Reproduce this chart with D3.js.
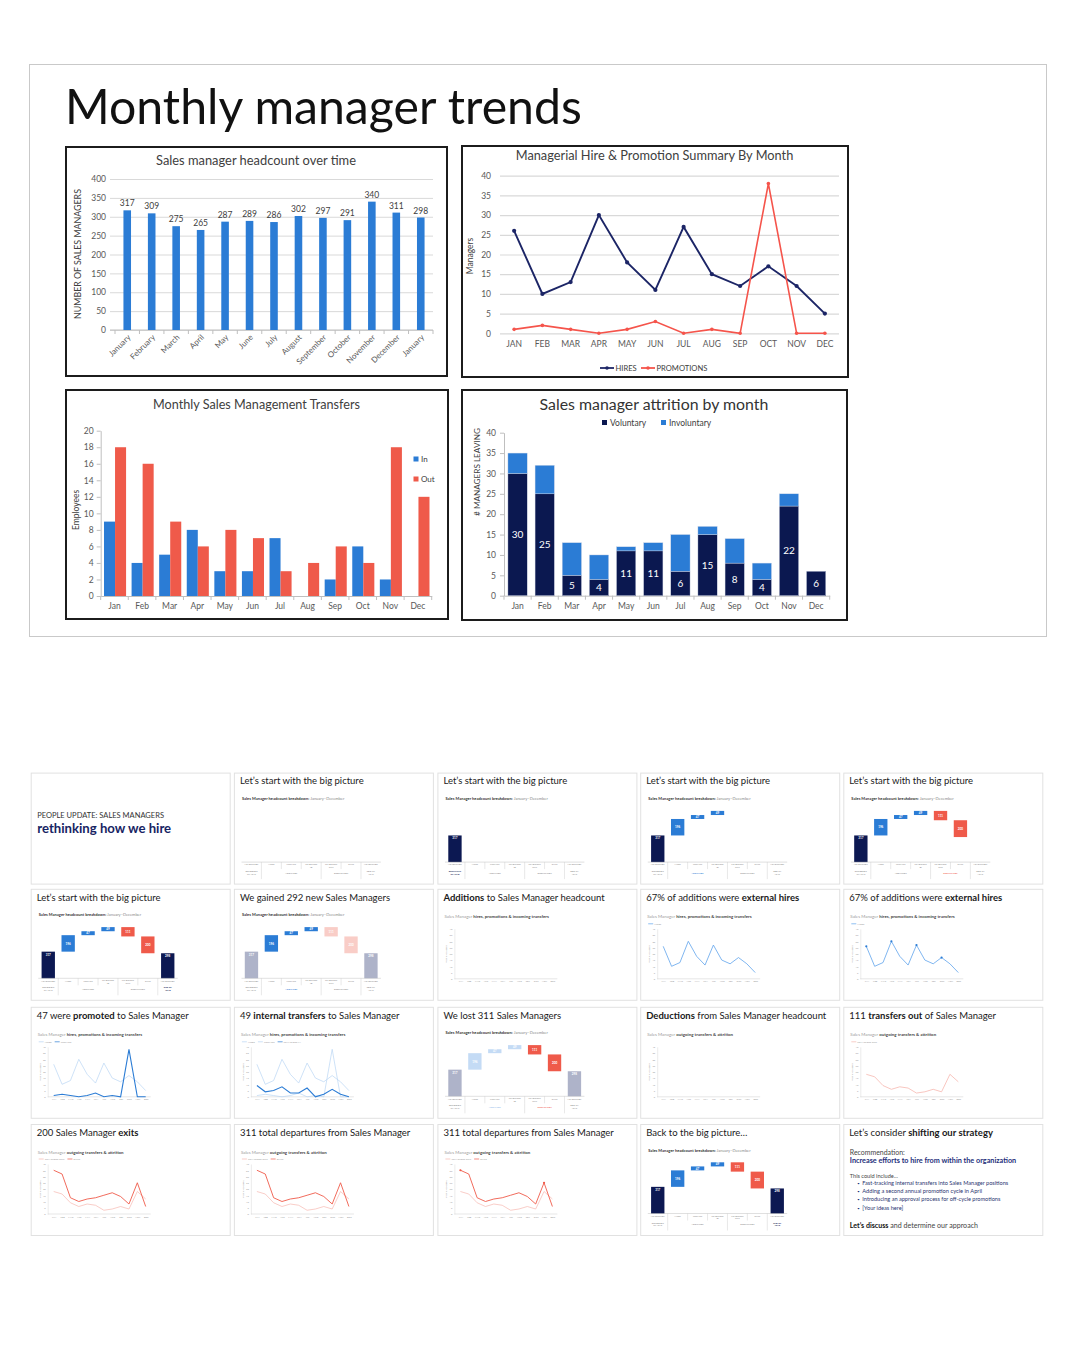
<!DOCTYPE html>
<html><head><meta charset="utf-8">
<script src="https://cdn.jsdelivr.net/npm/d3@7"></script>
<style>
html,body{margin:0;padding:0;background:#fff;}
svg{display:block;font-family:Lato,'Open Sans','DejaVu Sans',sans-serif;}
</style></head><body>
<svg id="c" width="1080" height="1350"></svg>
<script>
// ---------------- DATA ----------------
const headcountLabels = ["January","February","March","April","May","June","July","August","September","October","November","December","January"];
const headcountValues = [317,309,275,265,287,289,286,302,297,291,340,311,298];
const monthsUpper = ["JAN","FEB","MAR","APR","MAY","JUN","JUL","AUG","SEP","OCT","NOV","DEC"];
const hires = [26,10,13,30,18,11,27,15,12,17,12,5];
const promotions = [1,2,1,0,1,3,0,1,0,38,0,0];
const monthsShort = ["Jan","Feb","Mar","Apr","May","Jun","Jul","Aug","Sep","Oct","Nov","Dec"];
const transfersIn = [9,4,5,8,3,3,7,0,2,6,2,0];
const transfersOut = [18,16,9,6,8,7,3,4,6,4,18,12];
const voluntary = [30,25,5,4,11,11,6,15,8,4,22,6];
const involuntary = [5,7,8,6,1,2,9,2,6,4,3,0];
const exits = [35,32,13,10,12,13,15,17,14,8,25,6];
const wfLabels = ["HEADCOUNT","HIRES","PROMOS","TRANSFERS IN","TRANSFERS OUT","EXITS","HEADCOUNT"];
const wfGroups = ["BEGINNING OF YEAR","ADDITIONS","DEDUCTIONS","END OF YEAR"];
const wfValues = [317,196,47,49,-111,-200,298];
const slideTitles = [
  "",
  "Let’s start with the big picture","Let’s start with the big picture","Let’s start with the big picture","Let’s start with the big picture",
  "Let’s start with the big picture","We gained 292 new Sales Managers","**Additions** to Sales Manager headcount",
  "67% of additions were **external hires**","67% of additions were **external hires**",
  "47 were **promoted** to Sales Manager","49 **internal transfers** to Sales Manager","We lost 311 Sales Managers",
  "**Deductions** from Sales Manager headcount","111 **transfers out** of Sales Manager",
  "200 Sales Manager **exits**","311 total departures from Sales Manager","311 total departures from Sales Manager",
  "Back to the big picture…","Let’s consider **shifting our strategy**"
];
const slideKinds = ["cover","wf0","wf1","wf4","wf6","wf7","wfGain","addEmpty","hires","hiresDots","promos","tin","wfLost","dedEmpty","tout","exits","exits","exitsDots","wfBack","strategy"];
const strategyLines = ["Recommendation:","**Increase efforts to hire from within the organization**","This could include…"];
const strategyBullets = ["Fast-tracking internal transfers into Sales Manager positions","Adding a second annual promotion cycle in April","Introducing an approval process for off-cycle promotions","[Your ideas here]"];
const strategyClose = "**Let’s discuss** and determine our approach";

// ---------------- HELPERS ----------------
const svg = d3.select("#c");
const GRAY = "#595959", DARK = "#404040";
const NAVY = "#0c1852", BLUE = "#2b7cd5", RED = "#ef5a4a";
function fitTo(t, size, w) { const cw = t.node().getComputedTextLength(); t.attr("font-size", size * w / cw); return t; }
function txt(parent, x, y, s, size, o = {}) {
  const t = parent.append("text").attr("x", x).attr("y", y).attr("font-size", size)
    .attr("fill", o.fill || DARK).attr("text-anchor", o.anchor || "start").text(s);
  if (o.weight) t.attr("font-weight", o.weight);
  if (o.rotate) t.attr("transform", `rotate(${o.rotate},${x},${y})`);
  if (o.fit) fitTo(t, size, o.fit);
  return t;
}
function rich(parent, x, y, str, size, fill, boldFill) {
  const t = parent.append("text").attr("x", x).attr("y", y).attr("font-size", size).attr("fill", fill);
  str.split("**").forEach((s, i) => {
    if (!s) return;
    const ts = t.append("tspan").text(s);
    if (i % 2 === 1) { ts.attr("font-weight", 700); if (boldFill) ts.attr("fill", boldFill); }
  });
  return t;
}
function box(x0, y0, x1, y1) {
  svg.append("rect").attr("x", x0).attr("y", y0).attr("width", x1 - x0).attr("height", y1 - y0)
    .attr("fill", "#fff").attr("stroke", "#1c1c1c").attr("stroke-width", 2);
}
function styleAxis(a, size, fill) {
  a.attr("font-family", null).attr("font-size", null);
  a.selectAll("text").attr("font-size", size).attr("fill", fill || GRAY);
  return a;
}
function boundaryTicks(g, x, y0, len) {
  const n = x.domain().length, st = x.step(), r0 = x.range()[0] + x.paddingOuter() * st - x.paddingInner() * st / 2;
  g.append("g").selectAll("line").data(d3.range(n + 1)).join("line")
    .attr("x1", k => r0 + k * st).attr("x2", k => r0 + k * st)
    .attr("y1", y0).attr("y2", y0 + len).attr("stroke", "#bfbfbf");
}

// ---------------- TOP PANEL ----------------
svg.append("rect").attr("x", 29.5).attr("y", 64.5).attr("width", 1017).attr("height", 572)
  .attr("fill", "none").attr("stroke", "#c9c9c9");
txt(svg, 65, 124, "Monthly manager trends", 47, { fill: "#111", fit: 517 });

// Chart 1: headcount
(function () {
  box(66, 147, 447, 376);
  const g = svg.append("g");
  txt(g, 256, 165, "Sales manager headcount over time", 12.5, { anchor: "middle", fit: 200 });
  const x = d3.scaleBand().domain(d3.range(headcountValues.length)).range([115, 433]).paddingInner(0.69).paddingOuter(0.345);
  const y = d3.scaleLinear().domain([0, 400]).range([330, 179]);
  const ya = g.append("g").attr("transform", "translate(110,0)")
    .call(d3.axisLeft(y).tickValues(d3.range(0, 401, 50)).tickSize(-323).tickPadding(4));
  ya.select(".domain").remove();
  ya.selectAll("line").attr("stroke", "#d9d9d9");
  styleAxis(ya, 8.5);
  const xa = g.append("g").attr("transform", "translate(0,330)")
    .call(d3.axisBottom(x).tickSize(0).tickSizeOuter(0).tickFormat(i => headcountLabels[i]));
  xa.select(".domain").remove();
  g.append("line").attr("x1", 110).attr("x2", 433).attr("y1", 330).attr("y2", 330).attr("stroke", "#bfbfbf");
  styleAxis(xa, 8);
  xa.selectAll("text").attr("text-anchor", "end").attr("x", -2.8).attr("y", 5.5).attr("dy", "0.35em").attr("transform", "rotate(-45)");
  boundaryTicks(g, x, 330, 4);
  g.selectAll(".b1").data(headcountValues).join("rect")
    .attr("x", (d, i) => x(i)).attr("width", x.bandwidth())
    .attr("y", d => y(d)).attr("height", d => y(0) - y(d)).attr("fill", BLUE);
  g.selectAll(".l1").data(headcountValues).join("text")
    .attr("x", (d, i) => x(i) + x.bandwidth() / 2).attr("y", d => y(d) - 4)
    .attr("text-anchor", "middle").attr("font-size", 8.5).attr("fill", DARK).text(d => d);
  txt(g, 81, 254, "NUMBER OF SALES MANAGERS", 8.5, { anchor: "middle", rotate: -90, fit: 130 });
})();

// Chart 2: hires & promotions
(function () {
  box(462, 146, 848, 377);
  const g = svg.append("g");
  txt(g, 654.5, 160, "Managerial Hire & Promotion Summary By Month", 12.5, { anchor: "middle", fit: 278 });
  const x = d3.scaleBand().domain(monthsUpper).range([500, 839]);
  const y = d3.scaleLinear().domain([0, 40]).range([333.3, 175.7]);
  const ya = g.append("g").attr("transform", "translate(500,0)")
    .call(d3.axisLeft(y).tickValues(d3.range(0, 41, 5)).tickSize(-339).tickPadding(9));
  ya.select(".domain").remove();
  ya.selectAll("line").attr("stroke", "#d9d9d9").attr("stroke-width", 1.2);
  styleAxis(ya, 8.5);
  const xa = g.append("g").attr("transform", "translate(0,333.3)")
    .call(d3.axisBottom(x).tickSize(0).tickPadding(8));
  xa.select(".domain").remove();
  styleAxis(xa, 8.5);
  const cx = m => x(m) + x.bandwidth() / 2;
  const line = d3.line().x((d, i) => cx(monthsUpper[i])).y(d => y(d));
  [[hires, "#1c2566", 1.9, 2.1], [promotions, "#f5544b", 1.6, 1.8]].forEach(([vals, col, w, r]) => {
    g.append("path").datum(vals).attr("d", line).attr("fill", "none").attr("stroke", col).attr("stroke-width", w);
    g.selectAll(null).data(vals).join("circle").attr("cx", (d, i) => cx(monthsUpper[i])).attr("cy", d => y(d)).attr("r", r).attr("fill", col);
  });
  txt(g, 473, 256, "Managers", 8.5, { anchor: "middle", rotate: -90 });
  [["HIRES", "#1c2566", 600], ["PROMOTIONS", "#f5544b", 641]].forEach(([lab, col, lx]) => {
    g.append("line").attr("x1", lx).attr("x2", lx + 14).attr("y1", 368).attr("y2", 368).attr("stroke", col).attr("stroke-width", 1.8);
    g.append("circle").attr("cx", lx + 7).attr("cy", 368).attr("r", 1.8).attr("fill", col);
    txt(g, lx + 15.5, 371, lab, 7.6, { fill: DARK });
  });
})();

// Chart 3: transfers
(function () {
  box(66, 390, 448, 619);
  const g = svg.append("g");
  txt(g, 256.5, 408.5, "Monthly Sales Management Transfers", 12.5, { anchor: "middle", fit: 207 });
  const x = d3.scaleBand().domain(monthsShort).range([100.7, 431.7]);
  const xi = d3.scaleBand().domain(["In", "Out"]).range([x.bandwidth() * 0.12, x.bandwidth() * 0.92]);
  const y = d3.scaleLinear().domain([0, 20]).range([596, 430.7]);
  const ya = g.append("g").attr("transform", "translate(100.7,0)")
    .call(d3.axisLeft(y).tickValues(d3.range(0, 21, 2)).tickSize(4).tickSizeOuter(0).tickPadding(3));
  ya.select(".domain").attr("stroke", "#bfbfbf");
  ya.selectAll("line").attr("stroke", "#bfbfbf");
  styleAxis(ya, 8.5);
  const xa = g.append("g").attr("transform", "translate(0,596)")
    .call(d3.axisBottom(x).tickSize(0).tickSizeOuter(0).tickPadding(7));
  xa.select(".domain").attr("stroke", "#bfbfbf");
  styleAxis(xa, 8.5);
  boundaryTicks(g, x, 596, 4);
  const rows = monthsShort.map((m, i) => ({ m, In: transfersIn[i], Out: transfersOut[i] }));
  [["In", BLUE], ["Out", RED]].forEach(([k, col]) => {
    g.selectAll(null).data(rows).join("rect")
      .attr("x", d => x(d.m) + xi(k)).attr("width", xi.bandwidth())
      .attr("y", d => y(d[k])).attr("height", d => y(0) - y(d[k])).attr("fill", col);
  });
  txt(g, 79, 510, "Employees", 8.5, { anchor: "middle", rotate: -90 });
  [["In", BLUE, 456.5], ["Out", RED, 476.5]].forEach(([lab, col, ly]) => {
    g.append("rect").attr("x", 413.5).attr("y", ly).attr("width", 5).attr("height", 5).attr("fill", col);
    txt(g, 421, ly + 5.5, lab, 8, { fill: DARK });
  });
})();

// Chart 4: attrition stacked
(function () {
  box(462, 390, 847, 620);
  const g = svg.append("g");
  txt(g, 654, 410, "Sales manager attrition by month", 15, { anchor: "middle", fit: 229, fill: "#333" });
  const x = d3.scaleBand().domain(monthsShort).range([504, 829.7]).paddingInner(0.29).paddingOuter(0.145);
  const y = d3.scaleLinear().domain([0, 40]).range([595.7, 432.7]);
  const ya = g.append("g").attr("transform", "translate(504,0)")
    .call(d3.axisLeft(y).tickValues(d3.range(0, 41, 5)).tickSize(4).tickSizeOuter(0).tickPadding(4));
  ya.select(".domain").attr("stroke", "#bfbfbf");
  ya.selectAll("line").attr("stroke", "#bfbfbf");
  styleAxis(ya, 8.5);
  const xa = g.append("g").attr("transform", "translate(0,595.7)")
    .call(d3.axisBottom(x).tickSize(0).tickSizeOuter(0).tickPadding(7));
  xa.select(".domain").attr("stroke", "#bfbfbf");
  styleAxis(xa, 8.5);
  boundaryTicks(g, x, 595.7, 4);
  const rows = monthsShort.map((m, i) => ({ m, vol: voluntary[i], inv: involuntary[i] }));
  const st = d3.stack().keys(["vol", "inv"])(rows);
  const cols = { vol: "#0b1850", inv: BLUE };
  st.forEach(layer => {
    g.selectAll(null).data(layer).join("rect")
      .attr("x", d => x(d.data.m)).attr("width", x.bandwidth())
      .attr("y", d => y(d[1])).attr("height", d => y(d[0]) - y(d[1]))
      .attr("fill", cols[layer.key]).attr("stroke", "#cfd6e6").attr("stroke-width", 0.4);
  });
  g.selectAll(".vl").data(rows).join("text")
    .attr("x", d => x(d.m) + x.bandwidth() / 2).attr("y", d => (y(0) + y(d.vol)) / 2 + 3.6)
    .attr("text-anchor", "middle").attr("font-size", 10).attr("fill", "#fff").text(d => d.vol);
  txt(g, 480, 472, "# MANAGERS LEAVING", 8, { anchor: "middle", rotate: -90, fit: 88 });
  [["Voluntary", "#0b1850", 602], ["Involuntary", BLUE, 661]].forEach(([lab, col, lx]) => {
    g.append("rect").attr("x", lx).attr("y", 420).attr("width", 5).attr("height", 5).attr("fill", col);
    txt(g, lx + 8, 426, lab, 8.5, { fill: DARK });
  });
})();

// ---------------- SLIDE THUMBNAILS ----------------
const colX = [30.7, 233.9, 437.4, 640.2, 843.3];
const rowY = [772.6, 888.8, 1006.8, 1124];
const SW = 200, SH = 112;

function waterfall(g, nShown, colorOf, groupStyle) {
  const x = d3.scaleBand().domain(d3.range(wfValues.length)).range([7.6, 147]).paddingInner(0.33).paddingOuter(0.165);
  const y = d3.scaleLinear().domain([0, 640]).range([89.5, 35.7]);
  let run = 0;
  const bars = wfValues.map((v, i) => {
    if (i === 0 || i === wfValues.length - 1) { run = v; return { i, lo: 0, hi: v, v, total: true }; }
    const lo = Math.min(run, run + v), hi = Math.max(run, run + v); run += v;
    return { i, lo, hi, v: Math.abs(v), total: false };
  });
  const shown = bars.filter(b => b.i < nShown);
  g.selectAll(null).data(shown).join("rect")
    .attr("x", b => x(b.i)).attr("width", x.bandwidth())
    .attr("y", b => y(b.hi)).attr("height", b => y(b.lo) - y(b.hi)).attr("fill", b => colorOf(b.i));
  g.selectAll(null).data(shown).join("text")
    .attr("x", b => x(b.i) + x.bandwidth() / 2)
    .attr("y", b => b.total ? y(b.hi) + 4 : (y(b.lo) + y(b.hi)) / 2 + 1.1)
    .attr("text-anchor", "middle").attr("font-size", 3).attr("font-weight", 700).attr("fill", "#fff").text(b => b.v);
  const st = x.step(), r0 = x.range()[0], top = 89.5;
  const tg = g.append("g").attr("stroke", "#c4c4c4").attr("stroke-width", 0.4);
  tg.append("line").attr("x1", r0).attr("x2", r0 + 7 * st).attr("y1", top).attr("y2", top).attr("stroke", "#b0b0b0");
  tg.selectAll(null).data(d3.range(1, 7)).join("line").attr("x1", k => r0 + k * st).attr("x2", k => r0 + k * st).attr("y1", top).attr("y2", top + 7);
  tg.selectAll(null).data([1, 4, 6]).join("line").attr("x1", k => r0 + k * st).attr("x2", k => r0 + k * st).attr("y1", top + 7).attr("y2", top + 17);
  wfLabels.forEach((lab, i) => {
    const parts = lab.split(" ");
    parts.forEach((p, j) => txt(g, x(i) + x.bandwidth() / 2, top + 3 + j * 2.6 + (parts.length === 1 ? 0.4 : 0), p, 2.2, { anchor: "middle", fill: "#8d8d8d" }));
  });
  const spans = [[0, 1], [1, 4], [4, 6], [6, 7]];
  wfGroups.forEach((lab, gi) => {
    const cx = r0 + (spans[gi][0] + spans[gi][1]) / 2 * st;
    const s = groupStyle[gi] || {};
    const lines = (gi === 0) ? ["BEGINNING", "OF YEAR"] : (gi === 3 ? ["END OF", "YEAR"] : [lab]);
    lines.forEach((p, j) => {
      const t = txt(g, cx, top + 10.2 + j * 2.6 + (lines.length === 1 ? 1.4 : 0), p, 2.2, { anchor: "middle", fill: s.fill || "#8d8d8d" });
      if (s.weight) t.attr("font-weight", s.weight);
    });
  });
}

function lineChart(g, series, legend) {
  const x = d3.scalePoint().domain(monthsUpper).range([23, 115]);
  const y = d3.scaleLinear().domain([0, 40]).range([90, 40]);
  const ya = g.append("g").attr("transform", "translate(17,0)")
    .call(d3.axisLeft(y).tickValues(d3.range(0, 41, 5)).tickSize(0).tickPadding(2));
  ya.select(".domain").attr("stroke", "#cfcfcf").attr("stroke-width", 0.4);
  styleAxis(ya, 2.4, "#9a9a9a");
  g.append("line").attr("x1", 17).attr("x2", 120).attr("y1", y(0)).attr("y2", y(0)).attr("stroke", "#cfcfcf").attr("stroke-width", 0.5);
  const xa = g.append("g").attr("transform", `translate(0,${y(0)})`).call(d3.axisBottom(x).tickSize(0).tickPadding(2));
  xa.select(".domain").remove();
  styleAxis(xa, 2.3, "#9a9a9a");
  txt(g, 10, 65, "# OF MANAGERS", 2.2, { anchor: "middle", rotate: -90, fill: "#9a9a9a" });
  const line = d3.line().x((d, i) => x(monthsUpper[i])).y(d => y(d));
  series.forEach(s => {
    g.append("path").datum(s.values).attr("d", line).attr("fill", "none").attr("stroke", s.color).attr("stroke-width", s.width);
    if (s.dots) g.selectAll(null).data(s.dots).join("circle").attr("cx", i => x(monthsUpper[i])).attr("cy", i => y(s.values[i])).attr("r", 1.1).attr("fill", s.dotColor || s.color);
  });
  let lx = 8;
  legend.forEach(([lab, col]) => {
    g.append("line").attr("x1", lx).attr("x2", lx + 5).attr("y1", 35).attr("y2", 35).attr("stroke", col).attr("stroke-width", 0.7);
    const t = txt(g, lx + 6, 35.9, lab, 2.5, { fill: "#9a9a9a" });
    lx += 6 + t.node().getComputedTextLength() + 3;
  });
}

const LB = "#b9d5f4", LP = "#f6b8b0";
const SUB_WF = "**Sales Manager headcount breakdown:** January–December";
const SUB_ADD = "Sales Manager **hires, promotions & incoming transfers**";
const SUB_DED = "Sales Manager **outgoing transfers & attrition**";

slideKinds.forEach((kind, idx) => {
  const g = svg.append("g").attr("transform", `translate(${colX[idx % 5]},${rowY[Math.floor(idx / 5)]})`);
  g.append("rect").attr("x", 0.5).attr("y", 0.5).attr("width", SW - 1).attr("height", SH - 1).attr("fill", "#fff").attr("stroke", "#e1e1e1");
  if (kind === "cover") {
    txt(g, 6.5, 45.5, "PEOPLE UPDATE: SALES MANAGERS", 6.5, { fill: "#333", fit: 127 });
    txt(g, 6.5, 60.5, "rethinking how we hire", 11, { fill: "#172463", weight: 700, fit: 134 });
    return;
  }
  rich(g, 6, 11.8, slideTitles[idx], 9.5, "#1a1a1a");
  const isWf = kind.startsWith("wf");
  if (isWf) {
    rich(g, 8, 27.5, SUB_WF, 4, "#8a8a8a", "#333");
    const full = i => (i === 0 || i === 6) ? NAVY : (i < 4 ? BLUE : RED);
    const cfg = {
      wf0: [0, full, {}], wf1: [1, full, { 0: { fill: NAVY, weight: 700 } }],
      wf4: [4, full, { 1: { fill: BLUE } }], wf6: [6, full, { 2: { fill: RED } }],
      wf7: [7, full, { 3: { fill: NAVY, weight: 700 } }],
      wfGain: [7, i => (i === 0 || i === 6) ? "#aeb3c9" : (i < 4 ? BLUE : "#f9cdc7"), { 1: { fill: BLUE } }],
      wfLost: [7, i => (i === 0 || i === 6) ? "#aeb3c9" : (i < 4 ? "#c4dbf5" : RED), { 1: { fill: "#8fbaea" }, 2: { fill: RED } }],
      wfBack: [7, full, { 3: { fill: NAVY, weight: 700 } }]
    }[kind];
    waterfall(g, cfg[0], cfg[1], cfg[2]);
    return;
  }
  if (kind === "strategy") {
    txt(g, 6.5, 30.5, strategyLines[0], 4.2, { fill: "#444", fit: 55 });
    fitTo(rich(g, 6.5, 38.5, strategyLines[1], 4.2, "#1d2e7a", "#1d2e7a"), 4.2, 166);
    txt(g, 6.5, 53.5, strategyLines[2], 4.2, { fill: "#444", fit: 48 });
    const bw = [146, 120, 138, 41];
    strategyBullets.forEach((b, i) => {
      txt(g, 14, 60.5 + i * 8.4, "•", 4.2, { fill: "#1d2e7a" });
      txt(g, 19, 60.5 + i * 8.4, b, 3.6, { fill: "#2a3570", fit: bw[i] });
    });
    fitTo(rich(g, 6.5, 103.5, strategyClose, 4.2, "#444", "#111"), 4.2, 128);
    return;
  }
  const isAdd = ["addEmpty", "hires", "hiresDots", "promos", "tin"].includes(kind);
  rich(g, 7, 29.5, isAdd ? SUB_ADD : SUB_DED, 4.4, "#9a9a9a", "#444");
  const lc = {
    addEmpty: [[], []],
    hires: [[{ values: hires, color: "#5fa3ec", width: 0.8 }], [["HIRES", "#5fa3ec"]]],
    hiresDots: [[{ values: hires, color: "#5fa3ec", width: 0.8, dots: [0, 3, 6, 9], dotColor: "#2b7cd5" }], [["HIRES", "#5fa3ec"]]],
    promos: [[{ values: hires, color: LB, width: 0.7 }, { values: promotions, color: BLUE, width: 1.1 }], [["HIRES", LB], ["PROMOS", BLUE]]],
    tin: [[{ values: hires, color: LB, width: 0.7 }, { values: promotions, color: LB, width: 0.7 }, { values: transfersIn, color: BLUE, width: 1.1 }], [["HIRES", LB], ["PROMOS", LB], ["TRANSFERS IN", BLUE]]],
    dedEmpty: [[], []],
    tout: [[{ values: transfersOut, color: LP, width: 0.8 }], [["TRANSFERS OUT", LP]]],
    exits: [[{ values: transfersOut, color: LP, width: 0.7 }, { values: exits, color: RED, width: 0.9 }], [["TRANSFERS OUT", LP], ["EXITS", RED]]],
    exitsDots: [[{ values: transfersOut, color: LP, width: 0.7 }, { values: exits, color: RED, width: 0.9, dots: [0, 10] }], [["TRANSFERS OUT", LP], ["EXITS", RED]]]
  }[kind];
  lineChart(g, lc[0], lc[1]);
});
</script>
</body></html>
